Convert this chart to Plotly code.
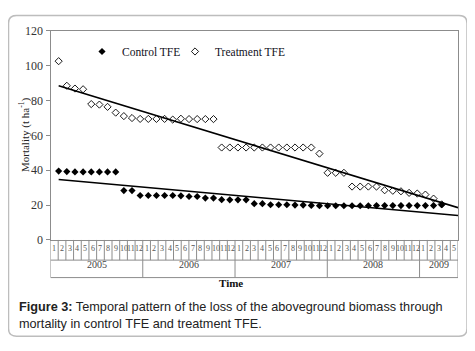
import numpy as np
import plotly.graph_objects as go

W, H = 475, 351

# ---------------- data ----------------
period = list(range(1, 49))  # monthly observations, Jan 2005 .. Dec 2008
control_tfe = [39.5, 39.2, 39.0, 39.0, 39.0, 39.0, 39.0, 39.0,
               28.3, 28.3,
               25.5, 25.5, 25.5, 25.5, 25.5, 25.3,
               24.9, 24.9, 24.0, 24.0,
               23.1, 23.0, 23.0, 23.0,
               20.8, 20.8, 20.2, 20.2, 20.2, 20.0, 20.0, 19.8,
               19.6, 19.6, 19.6, 19.6, 19.6, 19.6, 19.6, 19.7,
               19.7, 19.7, 19.7, 19.7, 19.7, 19.7, 19.7, 20.2]
treatment_tfe = [102.5, 88.4, 86.8, 86.4, 77.9, 77.6, 76.3, 73.0, 71.0, 69.9,
                 69.4, 69.4, 69.4, 69.4, 69.0, 69.5, 69.3, 69.3, 69.3, 69.3,
                 53.0, 53.0, 53.0, 53.0, 53.0, 53.0, 53.0, 53.0, 53.0, 53.0, 53.0, 53.0,
                 49.5, 38.5, 38.5, 38.5, 30.6, 30.6, 30.6, 30.6,
                 28.5, 28.2, 27.9, 27.0, 26.6, 26.0, 23.7, 20.4]
years = ["2005", "2006", "2007", "2008", "2009"]
months_in_year = [12, 12, 12, 12, 5]
y_ticks = [0, 20, 40, 60, 80, 100, 120]
trend_forward = 2  # periods the linear trendlines are extended

# ---------------- helpers (reference pixel -> paper) ----------------
OX, OY = 8, 8   # page offset of the figure

def px(x):
    return (x - OX) / W

def py(y):
    return 1 - (y - OY) / H

PL, PR, PT, PB = 50.5, 458.0, 24.3, 242.3   # plot area in pixels
TAB_MID, TAB_BOT = 263.3, 281.5             # table rows
GRID = "#8c8c8c"
SERIF = "Liberation Serif"

fig = go.Figure()

# trendlines (least squares fit of each series)
x_tr = np.array([min(period), max(period) + trend_forward])
for vals in (treatment_tfe, control_tfe):
    k, b = np.polyfit(period, vals, 1)
    fig.add_trace(go.Scatter(x=x_tr, y=k * x_tr + b, mode="lines",
                             line=dict(color="black", width=1.6),
                             showlegend=False, hoverinfo="skip"))

fig.add_trace(go.Scatter(x=period, y=control_tfe, mode="markers", name="Control TFE",
                         marker=dict(symbol="diamond", size=5.5, color="black"),
                         legend="legend"))
fig.add_trace(go.Scatter(x=period, y=treatment_tfe, mode="markers", name="Treatment TFE",
                         marker=dict(symbol="diamond-open", size=5.5, color="black",
                                     line=dict(width=0.9)),
                         legend="legend2"))

# ---------------- category table below the axis ----------------
n_cat = sum(months_in_year)
shapes = []
annotations = []
line_style = dict(color=GRID, width=1)
pos = 0
for yr, nm in zip(years, months_in_year):
    for m in range(1, nm + 1):
        annotations.append(dict(x=pos + m - 0.5, xref="x2", y=py(257.5), yref="paper",
                                text=str(m), showarrow=False,
                                font=dict(family=SERIF, size=8, color="#555555")))
        if pos + m < n_cat:
            shapes.append(dict(type="line", xref="x2", yref="paper",
                               x0=pos + m, x1=pos + m, y0=py(PB), y1=py(TAB_MID),
                               line=line_style))
    annotations.append(dict(x=pos + nm / 2, xref="x2", y=py(275.5), yref="paper",
                            text=yr, showarrow=False,
                            font=dict(family=SERIF, size=10, color="#444444")))
    pos += nm
    if pos < n_cat:
        shapes.append(dict(type="line", xref="x2", yref="paper", x0=pos, x1=pos,
                           y0=py(TAB_MID), y1=py(TAB_BOT), line=line_style))
for yy in (TAB_MID, TAB_BOT):
    shapes.append(dict(type="line", xref="x2", yref="paper", x0=0, x1=n_cat,
                       y0=py(yy), y1=py(yy), line=line_style))
for xx in (0, n_cat):
    shapes.append(dict(type="line", xref="x2", yref="paper", x0=xx, x1=xx,
                       y0=py(PB), y1=py(TAB_BOT), line=line_style))

# outer rounded frame
x0, x1, y0, y1, r = 8.5, 467.0, 8.5, 342.5, 8.0
path = (f"M {px(x0 + r)} {py(y0)} L {px(x1 - r)} {py(y0)} "
        f"Q {px(x1)} {py(y0)} {px(x1)} {py(y0 + r)} L {px(x1)} {py(y1 - r)} "
        f"Q {px(x1)} {py(y1)} {px(x1 - r)} {py(y1)} L {px(x0 + r)} {py(y1)} "
        f"Q {px(x0)} {py(y1)} {px(x0)} {py(y1 - r)} L {px(x0)} {py(y0 + r)} "
        f"Q {px(x0)} {py(y0)} {px(x0 + r)} {py(y0)} Z")
shapes.append(dict(type="path", xref="paper", yref="paper", path=path,
                   line=dict(color="#bdbdbd", width=1.5)))

# titles / caption
annotations.append(dict(x=px(231), y=py(295), xref="paper", yref="paper",
                        text="<b>Time</b>", showarrow=False,
                        font=dict(family=SERIF, size=11, color="#111111")))
annotations.append(dict(x=px(14.5), y=py(133), xref="paper", yref="paper",
                        text="Mortality (t ha<sup>-1</sup>)", textangle=-90,
                        showarrow=False,
                        font=dict(family=SERIF, size=11, color="#222222")))
annotations.append(dict(x=px(16.5), y=py(321.5), xref="paper", yref="paper",
                        xanchor="left", yanchor="middle", align="left",
                        text="<b>Figure 3:</b> Temporal pattern of the loss of the aboveground biomass through"
                             "<br>mortality in control TFE and treatment TFE.",
                        showarrow=False,
                        font=dict(family="Liberation Sans", size=12.7, color="#222222")))

fig.update_layout(
    width=W, height=H,
    margin=dict(l=0, r=0, t=0, b=0),
    paper_bgcolor="white", plot_bgcolor="white",
    xaxis=dict(domain=[px(PL), px(PR)], range=[0, max(period) + trend_forward],
               showgrid=False, zeroline=False, showticklabels=False, ticks="",
               showline=True, linecolor=GRID, linewidth=1, mirror=True),
    xaxis2=dict(domain=[px(PL), px(PR)], range=[0, n_cat], overlaying="x",
                anchor="y", visible=False),
    yaxis=dict(domain=[py(PB), py(PT)], range=[0, 120], tickvals=y_ticks,
               showgrid=False, zeroline=False, ticks="outside", ticklen=4,
               tickcolor=GRID, showline=True, linecolor=GRID, linewidth=1, mirror=True,
               tickfont=dict(family=SERIF, size=12, color="#333333")),
    legend=dict(x=px(82), y=py(46), xanchor="left", yanchor="middle",
                orientation="h", bgcolor="rgba(0,0,0,0)",
                font=dict(family=SERIF, size=11.5, color="#111122")),
    legend2=dict(x=px(175), y=py(46), xanchor="left", yanchor="middle",
                 orientation="h", bgcolor="rgba(0,0,0,0)",
                 font=dict(family=SERIF, size=11.5, color="#111122")),
    shapes=shapes, annotations=annotations,
    showlegend=True,
)

fig.write_html("out.html")
